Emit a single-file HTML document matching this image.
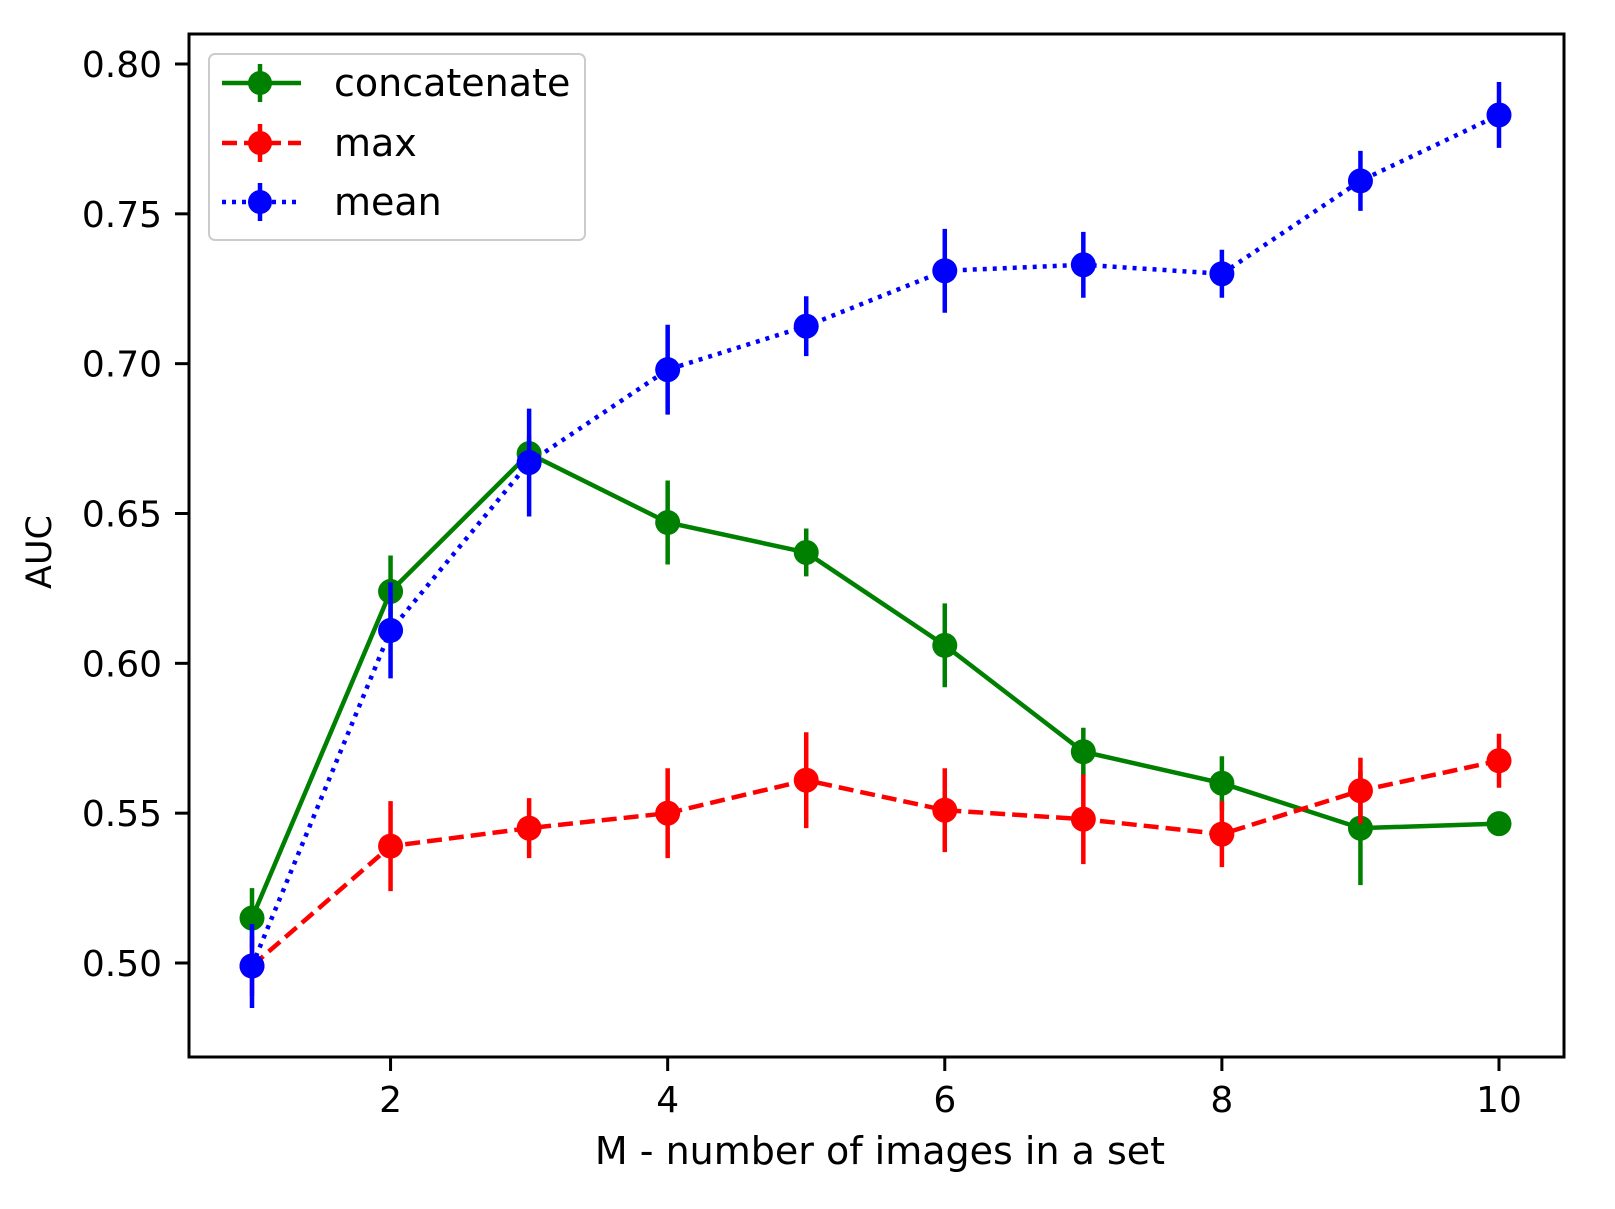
<!DOCTYPE html>
<html><head><meta charset="utf-8"><style>
html,body{margin:0;padding:0;background:#fff;}
svg{display:block;font-family:"DejaVu Sans","Liberation Sans",sans-serif;}
</style></head><body>
<svg id="chart" width="1615" height="1209" viewBox="0 0 1615 1209" xmlns="http://www.w3.org/2000/svg">
<rect x="0" y="0" width="1615" height="1209" fill="#fff"/>
<g id="marks"></g>
<g id="axes"></g>
<g id="legend">
  <rect x="209" y="54" width="376" height="186" rx="6" fill="#fff" fill-opacity="0.8" stroke="#ccc" stroke-width="2"/>
</g>
</svg>
<script>
const categories = [1,2,3,4,5,6,7,8,9,10];
const concatValues = [0.515,0.624,0.670,0.647,0.637,0.606,0.5705,0.560,0.545,0.5465];
const concatErrors = [0.010,0.012,0.006,0.014,0.008,0.014,0.008,0.009,0.019,0.003];
const maxValues = [0.499,0.539,0.545,0.550,0.561,0.551,0.548,0.543,0.5575,0.5675];
const maxErrors = [0.010,0.015,0.010,0.015,0.016,0.014,0.015,0.011,0.011,0.009];
const meanValues = [0.499,0.611,0.667,0.698,0.7125,0.731,0.733,0.730,0.761,0.783];
const meanErrors = [0.014,0.016,0.018,0.015,0.010,0.014,0.011,0.008,0.010,0.011];
const xTicks = [2,4,6,8,10];
const yTicks = [0.50,0.55,0.60,0.65,0.70,0.75,0.80];
const yTickLabels = ["0.50","0.55","0.60","0.65","0.70","0.75","0.80"];
const seriesNames = ["concatenate","max","mean"];

const NS="http://www.w3.org/2000/svg";
const L=189,R=1564,T=34,B=1057;
function xs(v){return 252+(v-1)*(1499-252)/9;}
function ys(v){return 963-(v-0.50)*(963-64)/0.30;}
function mk(tag,attrs,parent){const e=document.createElementNS(NS,tag);for(const k in attrs)e.setAttribute(k,attrs[k]);parent.appendChild(e);return e;}

const marks=document.getElementById('marks');
const axes=document.getElementById('axes');
const series=[
 {name:'concatenate',vals:concatValues,errs:concatErrors,color:'#008000',dash:''},
 {name:'max',vals:maxValues,errs:maxErrors,color:'#ff0000',dash:'15,7'},
 {name:'mean',vals:meanValues,errs:meanErrors,color:'#0000ff',dash:'4,6'}
];
series.forEach(s=>{
  const g=mk('g',{},marks);
  
  
  s.vals.forEach((v,i)=>{
    const el=mk('line',{x1:xs(categories[i]),x2:xs(categories[i]),y1:ys(v-s.errs[i]),y2:ys(v+s.errs[i]),stroke:s.color,'stroke-width':4.5},g);
    
    
  });
  const pts=s.vals.map((v,i)=>xs(categories[i])+','+ys(v)).join(' ');
  const pl=mk('polyline',{points:pts,fill:'none',stroke:s.color,'stroke-width':4.5},g);
  if(s.dash)pl.setAttribute('stroke-dasharray',s.dash);
  
  
  s.vals.forEach((v,i)=>{
    const c=mk('circle',{cx:xs(categories[i]),cy:ys(v),r:12.5,fill:s.color},g);
    
    
  });
});
const fr=mk('rect',{x:L,y:T,width:R-L,height:B-T,fill:'none',stroke:'#000','stroke-width':3},axes);


xTicks.forEach(t=>{
  const x=xs(t);
  const tk=mk('line',{x1:x,x2:x,y1:B,y2:B+14,stroke:'#000','stroke-width':3},axes);
  
  
  const tx=mk('text',{x:x,y:B+55,'text-anchor':'middle','font-size':36,fill:'#000'},axes);
  tx.textContent=String(t);
  
  
});
yTicks.forEach((t,i)=>{
  const y=ys(t);
  const tk=mk('line',{x1:L-14,x2:L,y1:y,y2:y,stroke:'#000','stroke-width':3},axes);
  
  
  const tx=mk('text',{x:L-27,y:y+13,'text-anchor':'end','font-size':36,fill:'#000'},axes);
  tx.textContent=yTickLabels[i];
  
  
});
const xl=mk('text',{x:880,y:1164,'text-anchor':'middle','font-size':38,fill:'#000'},axes);
xl.textContent='M - number of images in a set';


const yl=mk('text',{x:0,y:0,'text-anchor':'middle','font-size':35,fill:'#000',transform:'translate(51,552) rotate(-90)'},axes);
yl.textContent='AUC';


const leg=document.getElementById('legend');
const rowsY=[83,143,202];
series.forEach((s,i)=>{
  const g=mk('g',{},leg);
  
  
  const y=rowsY[i];
  const ln=mk('line',{x1:222,x2:301,y1:y,y2:y,stroke:s.color,'stroke-width':4.5},g);
  if(s.dash)ln.setAttribute('stroke-dasharray',s.dash);
  mk('line',{x1:260,x2:260,y1:y-19,y2:y+19,stroke:s.color,'stroke-width':4.5},g);
  mk('circle',{cx:260,cy:y,r:12,fill:s.color},g);
  const t=mk('text',{x:334,y:y+13,'font-size':38,fill:'#000'},g);
  t.textContent=seriesNames[i];
});
</script>
</body></html>
